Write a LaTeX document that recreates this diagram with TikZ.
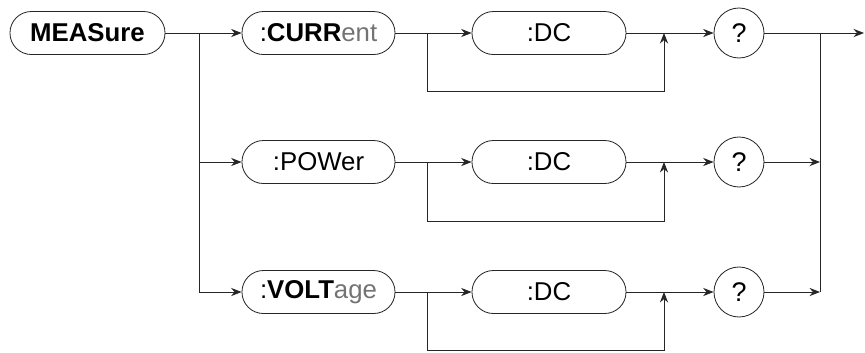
\documentclass[tikz,border=0pt]{standalone}
\usepackage{fontspec}
\setmainfont{Liberation Sans}
\usetikzlibrary{arrows.meta}
\tikzstyle{keyword}=[draw,rounded corners=0.64cm,minimum height=1.29cm,inner sep=0pt,font=\fontsize{22}{26}\selectfont]
\tikzstyle{query}=[draw,circle,minimum size=1.5cm,inner sep=0pt,font=\fontsize{23}{27}\selectfont]
\tikzstyle{flow}=[-{Stealth[length=9pt,width=7pt,inset=3pt]}]
\newcommand{\lite}[1]{\textcolor{black!55}{#1}}

\begin{document}
\begin{tikzpicture}[x=0.03cm,y=-0.03cm,line width=0.7pt,draw=black!85]
\useasboundingbox (0,0) rectangle (865,352);
\node[keyword,minimum width=4.65cm] at (87.5,33) (meas) {\textbf{MEASure}};
\node[keyword,minimum width=4.59cm] at (318.5,33) (curr) {:\textbf{CURR}\lite{ent}};
\node[keyword,minimum width=4.59cm] at (318.5,162) (pow) {:POWer};
\node[keyword,minimum width=4.59cm] at (318.5,292) (volt) {:\textbf{VOLT}\lite{age}};
\node[keyword,minimum width=4.62cm] at (549,33) (dc1) {:DC};
\node[keyword,minimum width=4.62cm] at (549,162) (dc2) {:DC};
\node[keyword,minimum width=4.62cm] at (549,292) (dc3) {:DC};
\node[query] at (739,33) (q1) {?};
\node[query] at (739,162) (q2) {?};
\node[query] at (739,292) (q3) {?};
\coordinate (fork1) at (199,33);
\coordinate (fork2) at (199,162);
\coordinate (fork3) at (199,292);
\coordinate (skip1) at (427,33);
\coordinate (skip2) at (427,162);
\coordinate (skip3) at (427,292);
\coordinate (low1) at (427,91);
\coordinate (low2) at (427,221);
\coordinate (low3) at (427,350);
\coordinate (back1) at (664,33);
\coordinate (back2) at (664,162);
\coordinate (back3) at (664,292);
\coordinate (join1) at (820,33);
\coordinate (join2) at (820,162);
\coordinate (join3) at (820,292);
\coordinate (out) at (864,33);
% entry
\draw (meas) -- (fork1) -- (fork3);
\draw[flow] (fork1) -- (curr);
\draw[flow] (fork2) -- (pow);
\draw[flow] (fork3) -- (volt);
% optional :DC
\draw (curr) -- (skip1);
\draw (pow) -- (skip2);
\draw (volt) -- (skip3);
\draw[flow] (skip1) -- (dc1);
\draw[flow] (skip2) -- (dc2);
\draw[flow] (skip3) -- (dc3);
\draw[flow] (skip1) -- (low1) -| (back1);
\draw[flow] (skip2) -- (low2) -| (back2);
\draw[flow] (skip3) -- (low3) -| (back3);
\draw (dc1) -- (back1);
\draw (dc2) -- (back2);
\draw (dc3) -- (back3);
% query and exit
\draw[flow] (back1) -- (q1);
\draw[flow] (back2) -- (q2);
\draw[flow] (back3) -- (q3);
\draw (q1) -- (join1) -- (join3);
\draw[flow] (q2) -- (join2);
\draw[flow] (q3) -- (join3);
\draw[flow] (join1) -- (out);
\end{tikzpicture}
\end{document}
